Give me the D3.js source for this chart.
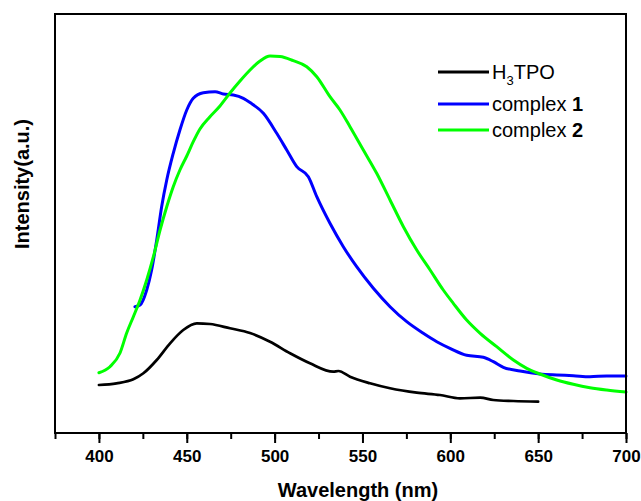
<!DOCTYPE html>
<html>
<head>
<meta charset="utf-8">
<script src="https://cdn.jsdelivr.net/npm/d3@7"></script>
<style>
  html, body { margin: 0; padding: 0; background: #fff; }
  svg { display: block; font-family: "Liberation Sans", Arial, sans-serif; }
</style>
</head>
<body>
<svg id="chart" width="641" height="501"></svg>
<script>
// Emission spectra: wavelength (nm) vs intensity (a.u.)
const wavelengthTicks = [400, 450, 500, 550, 600, 650, 700];

const h3tpoWavelength = [400, 410, 419.6, 425.3, 432.9, 440.5, 448, 455.7, 463.2, 474.6, 486, 497.4, 508.8, 520.1, 533.4, 536.3, 542.9, 554.3, 565.7, 580.9, 594.1, 605.5, 617, 624.5, 635.9, 650];
const h3tpoIntensity  = [48, 49.7, 53.7, 59.7, 73, 89.7, 103, 109.7, 109, 104.7, 100, 91.3, 79.7, 69.7, 61.3, 62, 56.3, 49.7, 44.7, 40.3, 38, 34.7, 35.3, 33, 32, 31.3];

const complex1Wavelength = [420.5, 423.4, 427.2, 430, 432.9, 435.7, 438.6, 442.3, 446.1, 450, 453.7, 459.4, 466.1, 470.8, 476.5, 482.2, 486, 493.6, 501.2, 506.9, 512.6, 519.2, 524, 531.5, 539.1, 546.7, 556.2, 565.7, 575.2, 584.6, 592.3, 599.8, 609.3, 618.8, 624.5, 630.2, 639.7, 651, 660.6, 670, 679.5, 689, 700];
const complex1Intensity  = [126.3, 128, 143, 163, 193, 226.3, 253, 279.7, 303, 323, 334.7, 340.3, 341.3, 339, 338, 334.7, 330.5, 319.7, 299.7, 283, 266.3, 256.3, 236.3, 209.7, 186.3, 166.3, 144.7, 126.3, 111.3, 99.7, 91.3, 84.7, 77.7, 75.7, 71.3, 65.7, 62, 59, 58, 57.3, 56.3, 57, 57];

const complex2Wavelength = [400, 406.3, 412, 415.8, 419.6, 423.4, 427.2, 431, 434.8, 438.6, 442.3, 446.1, 450, 453.7, 457.5, 463.2, 468.9, 474.6, 480.3, 486, 491.7, 497.4, 503.1, 510.6, 518.3, 524, 531.5, 537.2, 542.9, 550.5, 558.1, 565.7, 573.3, 580.9, 588.5, 596, 601.7, 609.3, 617, 626.4, 635.9, 643.5, 651, 660.6, 670, 679.5, 689, 700];
const complex2Intensity  = [60.3, 66.3, 80, 100, 116.3, 133, 153, 176.3, 203, 226.3, 246.3, 263, 277, 291.3, 304, 316.3, 327, 340, 352, 363, 372, 377, 376.5, 372.3, 366.3, 356.3, 336.3, 323, 306.3, 283, 259.7, 233, 206.3, 183, 163, 143, 129.7, 113, 99.7, 86.3, 73, 64.7, 59, 53, 48.7, 45.3, 43, 41];

const seriesNames  = ["H3TPO", "complex 1", "complex 2"];
const seriesColors = ["#000000", "#0000ff", "#00ff00"];

const svg = d3.select("#chart");
const plot = { left: 55, right: 626, top: 14, bottom: 433 };

const x = d3.scaleLinear().domain([375, 700]).range([plot.left, plot.right]);
const y = d3.scaleLinear().domain([0, 419]).range([plot.bottom, plot.top]);

const zip = (xs, ys) => xs.map((v, i) => [v, ys[i]]);
const series = [
  zip(h3tpoWavelength, h3tpoIntensity),
  zip(complex1Wavelength, complex1Intensity),
  zip(complex2Wavelength, complex2Intensity)
];

const line = d3.line()
  .x(d => x(d[0]))
  .y(d => y(d[1]))
  .curve(d3.curveMonotoneX);

// Spectra, drawn black first, then blue, then green on top
series.forEach((data, i) => {
  svg.append("path")
    .datum(data)
    .attr("fill", "none")
    .attr("stroke", seriesColors[i])
    .attr("stroke-width", i === 0 ? 2.7 : 3)
    .attr("stroke-linejoin", "round")
    .attr("stroke-linecap", "round")
    .attr("d", line);
});

// Minor ticks every 25 nm
const minorAxis = d3.axisBottom(x)
  .tickValues(d3.range(375, 701, 25))
  .tickSize(6)
  .tickFormat("");
const gMinor = svg.append("g")
  .attr("transform", `translate(0,${plot.bottom})`)
  .call(minorAxis);
gMinor.select(".domain").remove();
gMinor.selectAll("line").attr("stroke", "#000").attr("stroke-width", 2);

// Major ticks with labels
const majorAxis = d3.axisBottom(x)
  .tickValues(wavelengthTicks)
  .tickSize(10)
  .tickPadding(7)
  .tickFormat(d3.format("d"));
const gMajor = svg.append("g")
  .attr("transform", `translate(0,${plot.bottom})`)
  .call(majorAxis);
gMajor.select(".domain").remove();
gMajor.selectAll("line").attr("stroke", "#000").attr("stroke-width", 2);
gMajor.selectAll("text")
  .attr("fill", "#000")
  .attr("font-family", "'Liberation Sans', Arial, sans-serif")
  .attr("font-size", 17)
  .attr("font-weight", "bold");

// Plot frame
svg.append("rect")
  .attr("x", plot.left)
  .attr("y", plot.top)
  .attr("width", plot.right - plot.left)
  .attr("height", plot.bottom - plot.top)
  .attr("fill", "none")
  .attr("stroke", "#000")
  .attr("stroke-width", 2);

// Axis titles
svg.append("text")
  .attr("x", 358)
  .attr("y", 497)
  .attr("text-anchor", "middle")
  .attr("font-size", 20)
  .attr("font-weight", "bold")
  .text("Wavelength (nm)");

svg.append("text")
  .attr("transform", "translate(29,184) rotate(-90)")
  .attr("text-anchor", "middle")
  .attr("font-size", 20)
  .attr("font-weight", "bold")
  .text("Intensity(a.u.)");

// Legend
const legendRows = [72, 104, 130];
const legend = svg.append("g");
legendRows.forEach((ly, i) => {
  legend.append("line")
    .attr("x1", 438).attr("x2", 489)
    .attr("y1", ly).attr("y2", ly)
    .attr("stroke", seriesColors[i])
    .attr("stroke-width", 3);
});

const t0 = legend.append("text")
  .attr("x", 492).attr("y", legendRows[0] + 7)
  .attr("font-size", 20);
t0.append("tspan").text("H");
t0.append("tspan").attr("font-size", 13).attr("dy", 6).text("3");
t0.append("tspan").attr("dy", -6).text("TPO");

[1, 2].forEach(i => {
  const t = legend.append("text")
    .attr("x", 492).attr("y", legendRows[i] + 7)
    .attr("font-size", 20);
  t.append("tspan").text("complex ");
  t.append("tspan").attr("font-weight", "bold").text(String(i));
});
</script>
</body>
</html>
